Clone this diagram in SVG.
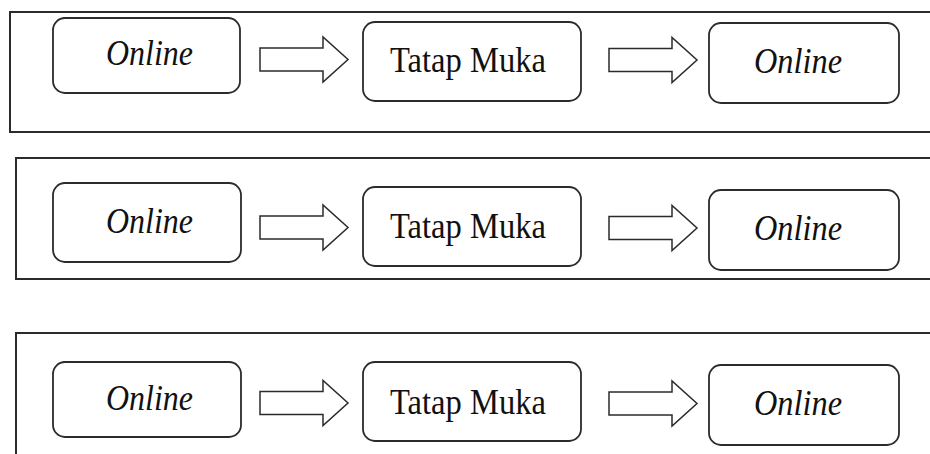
<svg xmlns="http://www.w3.org/2000/svg" width="930" height="454" viewBox="0 0 930 454">
  <defs>
    <style>
      .frame { fill: none; stroke: #2b2b2b; stroke-width: 2; }
      .box { fill: #ffffff; stroke: #2b2b2b; stroke-width: 1.8; }
      .arrow { fill: #ffffff; stroke: #2b2b2b; stroke-width: 1.5; stroke-linejoin: miter; }
      .lbl { font-family: "Liberation Serif", "Times New Roman", serif; font-size: 36px; fill: #111111; text-anchor: middle; }
      .it { font-style: italic; }
    </style>
    <!-- block arrow, drawn at origin: shaft start to tip, centred on y=0 -->
    <path id="blockArrow" d="M0,-11.5 H63 V-22.5 L88,0 L63,22.5 V11.5 H0 Z"/>
  </defs>

  <rect width="930" height="454" fill="#ffffff"/>

  <!-- row frames -->
  <g id="frames">
    <rect class="frame" x="10" y="12" width="940" height="120"/>
    <rect class="frame" x="16" y="158" width="940" height="121"/>
    <rect class="frame" x="16" y="333" width="940" height="140"/>
  </g>

  <!-- connectors -->
  <g id="connectors">
    <use href="#blockArrow" class="arrow" x="260" y="59.5"/>
    <use href="#blockArrow" class="arrow" x="609" y="60"/>
    <use href="#blockArrow" class="arrow" x="260" y="227.5"/>
    <use href="#blockArrow" class="arrow" x="609" y="228"/>
    <use href="#blockArrow" class="arrow" x="260" y="403"/>
    <use href="#blockArrow" class="arrow" x="609" y="403.5"/>
  </g>

  <!-- row 1 -->
  <g id="r1-online-a">
    <rect class="box" x="53" y="18" width="187" height="75" rx="12"/>
    <text class="lbl it" x="149.5" y="65" textLength="87" lengthAdjust="spacingAndGlyphs">Online</text>
  </g>
  <g id="r1-tatap-muka">
    <rect class="box" x="363" y="22" width="218" height="79" rx="12"/>
    <text class="lbl" x="468" y="72" textLength="156" lengthAdjust="spacingAndGlyphs">Tatap Muka</text>
  </g>
  <g id="r1-online-b">
    <rect class="box" x="709" y="23" width="190" height="80" rx="12"/>
    <text class="lbl it" x="798" y="73" textLength="88" lengthAdjust="spacingAndGlyphs">Online</text>
  </g>

  <!-- row 2 -->
  <g id="r2-online-a">
    <rect class="box" x="53" y="183" width="188" height="79" rx="12"/>
    <text class="lbl it" x="149.5" y="233" textLength="87" lengthAdjust="spacingAndGlyphs">Online</text>
  </g>
  <g id="r2-tatap-muka">
    <rect class="box" x="363" y="187" width="218" height="79" rx="12"/>
    <text class="lbl" x="468" y="238" textLength="156" lengthAdjust="spacingAndGlyphs">Tatap Muka</text>
  </g>
  <g id="r2-online-b">
    <rect class="box" x="709" y="190" width="190" height="80" rx="12"/>
    <text class="lbl it" x="798" y="240" textLength="88" lengthAdjust="spacingAndGlyphs">Online</text>
  </g>

  <!-- row 3 -->
  <g id="r3-online-a">
    <rect class="box" x="53" y="362" width="188" height="75" rx="12"/>
    <text class="lbl it" x="149.5" y="410" textLength="87" lengthAdjust="spacingAndGlyphs">Online</text>
  </g>
  <g id="r3-tatap-muka">
    <rect class="box" x="363" y="362" width="218" height="79" rx="12"/>
    <text class="lbl" x="468" y="414" textLength="156" lengthAdjust="spacingAndGlyphs">Tatap Muka</text>
  </g>
  <g id="r3-online-b">
    <rect class="box" x="709" y="365" width="190" height="80" rx="12"/>
    <text class="lbl it" x="798" y="415" textLength="88" lengthAdjust="spacingAndGlyphs">Online</text>
  </g>
</svg>
